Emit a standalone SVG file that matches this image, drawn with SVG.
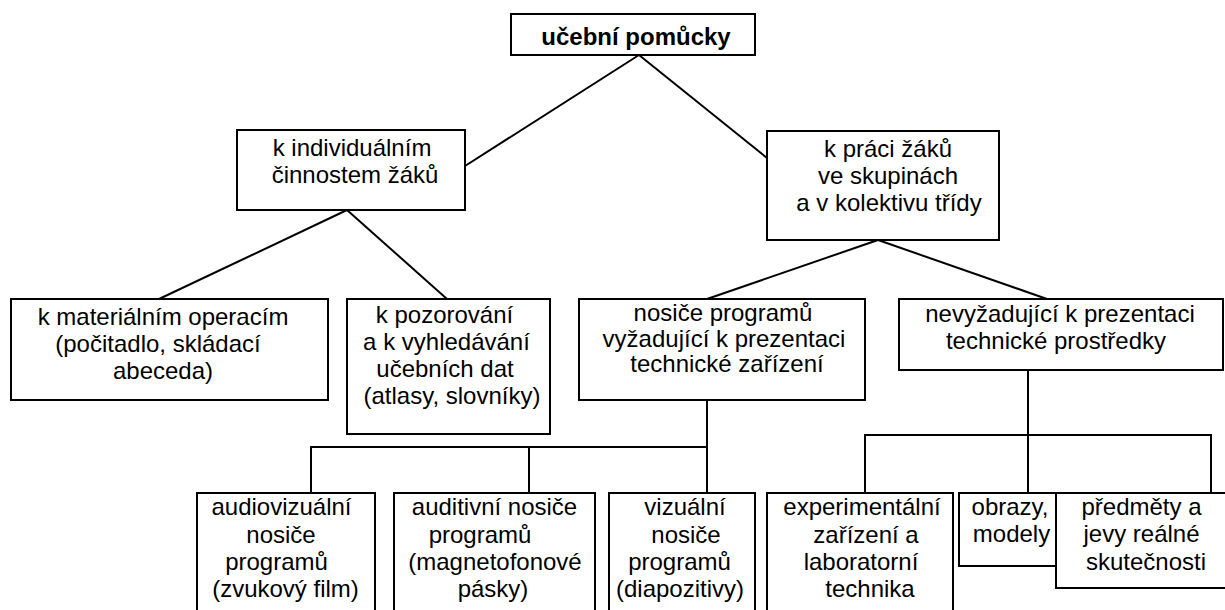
<svg xmlns="http://www.w3.org/2000/svg" width="1225" height="610" viewBox="0 0 1225 610">
  <style>
    .box { fill: #ffffff; stroke: #000000; stroke-width: 2; }
    .lbl { font-family: "Liberation Sans", Arial, sans-serif; font-size: 24px; fill: #000000; text-anchor: middle; }
    .title { font-weight: bold; }
    .wire { fill: none; stroke: #000000; stroke-width: 2; }
  </style>
  <rect x="0" y="0" width="1225" height="610" fill="#ffffff"/>

  <!-- connectors -->
  <g id="connectors">
    <line class="wire" x1="639" y1="55" x2="465" y2="166"/>
    <line class="wire" x1="639" y1="55" x2="767" y2="158"/>
    <line class="wire" x1="347" y1="210" x2="159" y2="299"/>
    <line class="wire" x1="347" y1="210" x2="447" y2="299"/>
    <line class="wire" x1="878" y1="240" x2="707" y2="299"/>
    <line class="wire" x1="878" y1="240" x2="1047" y2="299"/>
    <polyline class="wire" points="707,400 707,493"/>
    <polyline class="wire" points="311,493 311,447 707,447"/>
    <polyline class="wire" points="529,447 529,493"/>
    <polyline class="wire" points="1028,370 1028,493"/>
    <polyline class="wire" points="865,493 865,435 1211,435 1211,493"/>
  </g>

  <!-- root -->
  <g id="root">
    <rect class="box" x="511" y="14" width="244" height="41"/>
    <text class="lbl title" x="636" y="45">učební pomůcky</text>
  </g>

  <!-- second level -->
  <g id="individual">
    <rect class="box" x="237" y="130" width="228" height="80"/>
    <text class="lbl" x="352" y="156">k individuálním</text>
    <text class="lbl" x="355" y="183">činnostem žáků</text>
  </g>
  <g id="group-work">
    <rect class="box" x="767" y="131" width="232" height="109"/>
    <text class="lbl" x="888" y="157">k práci žáků</text>
    <text class="lbl" x="888" y="184">ve skupinách</text>
    <text class="lbl" x="889" y="211">a v kolektivu třídy</text>
  </g>

  <!-- third level -->
  <g id="material-ops">
    <rect class="box" x="11" y="299" width="317" height="101"/>
    <text class="lbl" x="163" y="325">k materiálním operacím</text>
    <text class="lbl" x="158" y="352">(počitadlo, skládací</text>
    <text class="lbl" x="163" y="379">abeceda)</text>
  </g>
  <g id="observation">
    <rect class="box" x="347" y="299" width="203" height="135"/>
    <text class="lbl" x="444.5" y="323">k pozorování</text>
    <text class="lbl" x="446.5" y="350">a k vyhledávání</text>
    <text class="lbl" x="445" y="377">učebních dat</text>
    <text class="lbl" x="452" y="404">(atlasy, slovníky)</text>
  </g>
  <g id="tech-required">
    <rect class="box" x="579" y="299" width="286" height="101"/>
    <text class="lbl" x="723" y="321">nosiče programů</text>
    <text class="lbl" x="724" y="347">vyžadující k prezentaci</text>
    <text class="lbl" x="727" y="372">technické zařízení</text>
  </g>
  <g id="tech-free">
    <rect class="box" x="899" y="299" width="324" height="71"/>
    <text class="lbl" x="1060" y="322">nevyžadující k prezentaci</text>
    <text class="lbl" x="1056" y="349">technické prostředky</text>
  </g>

  <!-- bottom level -->
  <g id="audiovisual">
    <rect class="box" x="197" y="493" width="178" height="130"/>
    <text class="lbl" x="281.5" y="515">audiovizuální</text>
    <text class="lbl" x="281" y="543">nosiče</text>
    <text class="lbl" x="276.5" y="570">programů</text>
    <text class="lbl" x="285.5" y="597">(zvukový film)</text>
  </g>
  <g id="auditory">
    <rect class="box" x="394" y="493" width="201" height="130"/>
    <text class="lbl" x="494.5" y="515">auditivní nosiče</text>
    <text class="lbl" x="480" y="543">programů</text>
    <text class="lbl" x="495" y="570">(magnetofonové</text>
    <text class="lbl" x="493" y="597">pásky)</text>
  </g>
  <g id="visual">
    <rect class="box" x="609" y="493" width="146" height="130"/>
    <text class="lbl" x="685" y="515">vizuální</text>
    <text class="lbl" x="686" y="543">nosiče</text>
    <text class="lbl" x="679.5" y="570">programů</text>
    <text class="lbl" x="680" y="597">(diapozitivy)</text>
  </g>
  <g id="experimental">
    <rect class="box" x="767" y="493" width="186" height="130"/>
    <text class="lbl" x="862" y="515">experimentální</text>
    <text class="lbl" x="866" y="543">zařízení a</text>
    <text class="lbl" x="861" y="570">laboratorní</text>
    <text class="lbl" x="870" y="597">technika</text>
  </g>
  <g id="images-models">
    <rect class="box" x="959" y="493" width="97" height="73"/>
    <text class="lbl" x="1010" y="515">obrazy,</text>
    <text class="lbl" x="1011.5" y="542">modely</text>
  </g>
  <g id="real-objects">
    <rect class="box" x="1056" y="493" width="175" height="95"/>
    <text class="lbl" x="1141.5" y="515">předměty a</text>
    <text class="lbl" x="1141.5" y="542">jevy reálné</text>
    <text class="lbl" x="1146" y="570">skutečnosti</text>
  </g>
</svg>
